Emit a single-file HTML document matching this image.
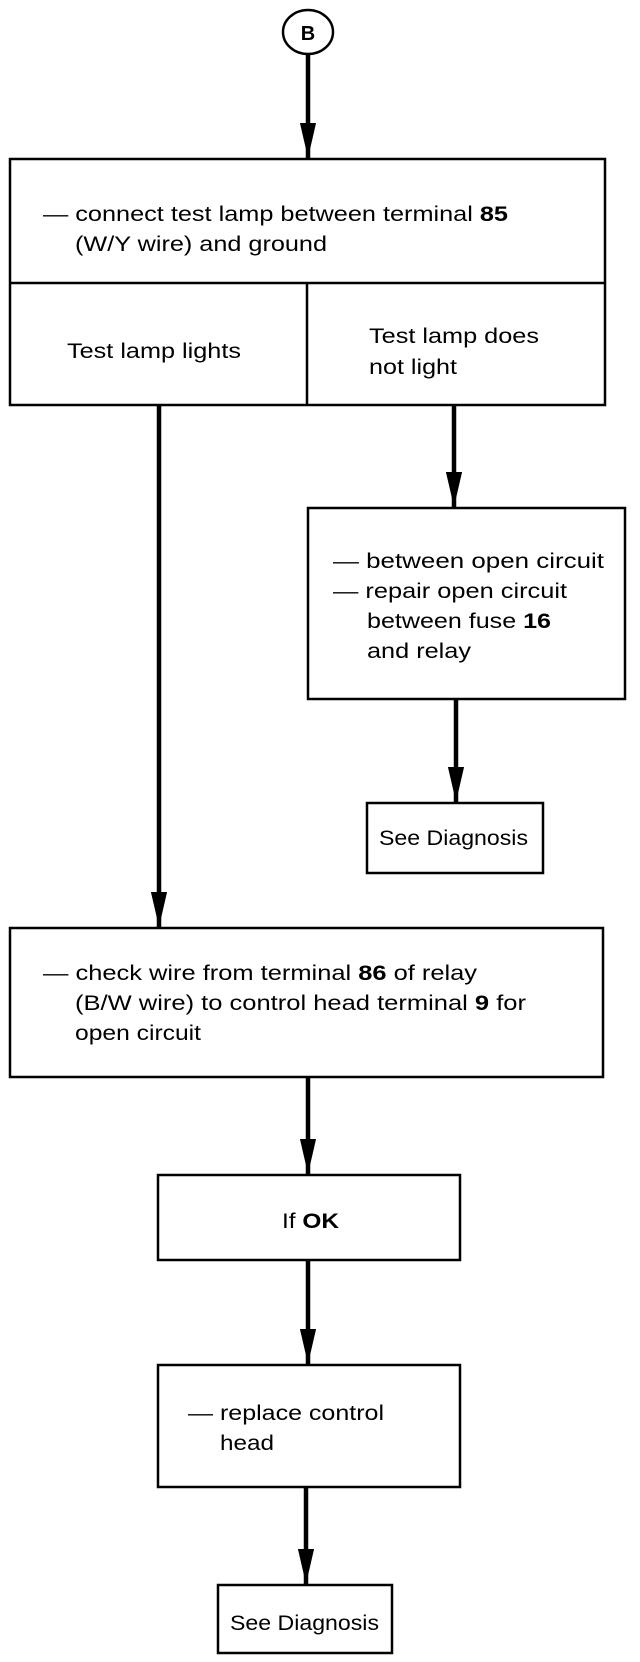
<!DOCTYPE html>
<html><head><meta charset="utf-8"><style>
html,body{margin:0;padding:0;background:#fff}
svg{display:block}
text{font-family:"Liberation Sans",Arial,sans-serif;font-size:21px;fill:#000}
</style></head><body>
<svg width="640" height="1662" viewBox="0 0 640 1662" xmlns="http://www.w3.org/2000/svg">
<defs>
<marker id="a" viewBox="0 0 10 10" refX="10" refY="5" markerWidth="7.8" markerHeight="3.6" orient="auto" markerUnits="strokeWidth" preserveAspectRatio="none">
<path d="M0,0 L10,5 L0,10 z" fill="#000"/></marker>
</defs>
<g fill="none" stroke="#000">
<ellipse cx="308" cy="32" rx="25" ry="22" stroke-width="2.5"/>
<g stroke-width="4.5">
<line x1="308" y1="54" x2="308" y2="158" marker-end="url(#a)"/>
<line x1="159" y1="405" x2="159" y2="927" marker-end="url(#a)"/>
<line x1="454" y1="405" x2="454" y2="507" marker-end="url(#a)"/>
<line x1="456" y1="699" x2="456" y2="802" marker-end="url(#a)"/>
<line x1="308" y1="1077" x2="308" y2="1174" marker-end="url(#a)"/>
<line x1="308" y1="1260" x2="308" y2="1364" marker-end="url(#a)"/>
<line x1="306" y1="1487" x2="306" y2="1584" marker-end="url(#a)"/>
</g>
<g stroke-width="2.5">
<rect x="10" y="159" width="595" height="246"/>
<line x1="10" y1="283" x2="605" y2="283"/>
<line x1="307" y1="283" x2="307" y2="405"/>
<rect x="308" y="508" width="317" height="191"/>
<rect x="367" y="803" width="176" height="70"/>
<rect x="10" y="928" width="593" height="149"/>
<rect x="158" y="1175" width="302" height="85"/>
<rect x="158" y="1365" width="302" height="122"/>
<rect x="218" y="1585" width="174" height="68"/>
</g>
</g>
<text x="308" y="40" text-anchor="middle" font-weight="bold" style="font-size:20px">B</text>
<text x="43" y="221" textLength="465" lengthAdjust="spacingAndGlyphs">— connect test lamp between terminal <tspan font-weight="bold">85</tspan></text>
<text x="75" y="251" textLength="252" lengthAdjust="spacingAndGlyphs">(W/Y wire) and ground</text>
<text x="67" y="358" textLength="174" lengthAdjust="spacingAndGlyphs">Test lamp lights</text>
<text x="369" y="343" textLength="170" lengthAdjust="spacingAndGlyphs">Test lamp does</text>
<text x="369" y="374" textLength="88" lengthAdjust="spacingAndGlyphs">not light</text>
<text x="333" y="568" textLength="271" lengthAdjust="spacingAndGlyphs">— between open circuit</text>
<text x="333" y="598" textLength="234" lengthAdjust="spacingAndGlyphs">— repair open circuit</text>
<text x="367" y="628" textLength="184" lengthAdjust="spacingAndGlyphs">between fuse <tspan font-weight="bold">16</tspan></text>
<text x="367" y="658" textLength="104" lengthAdjust="spacingAndGlyphs">and relay</text>
<text x="379" y="845" textLength="149" lengthAdjust="spacingAndGlyphs">See Diagnosis</text>
<text x="43" y="980" textLength="434" lengthAdjust="spacingAndGlyphs">— check wire from terminal <tspan font-weight="bold">86</tspan> of relay</text>
<text x="75" y="1010" textLength="451" lengthAdjust="spacingAndGlyphs">(B/W wire) to control head terminal <tspan font-weight="bold">9</tspan> for</text>
<text x="75" y="1040" textLength="126" lengthAdjust="spacingAndGlyphs">open circuit</text>
<text x="282" y="1228" textLength="57" lengthAdjust="spacingAndGlyphs">If <tspan font-weight="bold">OK</tspan></text>
<text x="188" y="1420" textLength="196" lengthAdjust="spacingAndGlyphs">— replace control</text>
<text x="220" y="1450" textLength="54" lengthAdjust="spacingAndGlyphs">head</text>
<text x="230" y="1630" textLength="149" lengthAdjust="spacingAndGlyphs">See Diagnosis</text>
</svg>
</body></html>
